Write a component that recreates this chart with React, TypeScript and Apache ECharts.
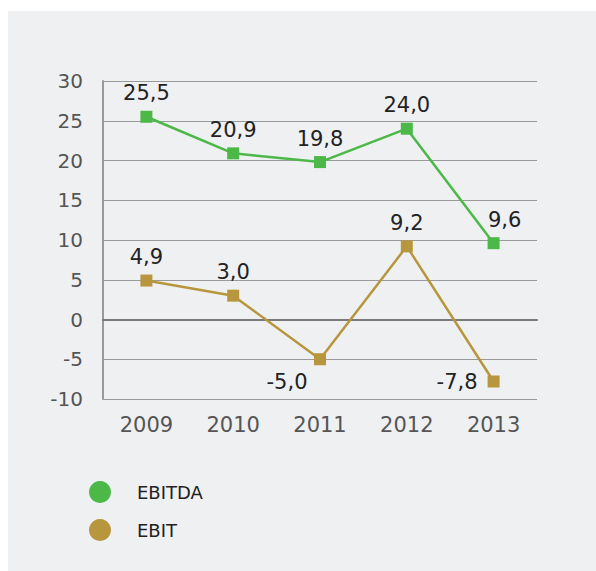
import React, { useEffect, useRef } from "react";
import * as echarts from "echarts";

const categories = ["2009", "2010", "2011", "2012", "2013"];
const ebitda = [25.5, 20.9, 19.8, 24.0, 9.6];
const ebit = [4.9, 3.0, -5.0, 9.2, -7.8];
const seriesNames = ["EBITDA", "EBIT"];
const yTicks = { min: -10, max: 30, interval: 5 };

const GREEN = "#4cb848";
const GOLD = "#b8963e";
const FONT = "DejaVu Sans";

const fmt = (v: number) => v.toFixed(1).replace(".", ",");

export default function App() {
  const ref = useRef<HTMLDivElement>(null);
  useEffect(() => {
    if (!ref.current) return;
    const chart = echarts.init(ref.current, null, { renderer: "svg" });
    const labelBase = {
      show: true,
      fontFamily: FONT,
      fontSize: 21,
      color: "#222",
      formatter: (p: any) => fmt(p.value),
    };
    chart.setOption({
      animation: false,
      backgroundColor: "#eff0f2",
      textStyle: { fontFamily: FONT },
      grid: { left: 95, right: 59, top: 70, bottom: 172 },
      legend: {
        orient: "vertical",
        left: 76,
        top: 465,
        icon: "circle",
        itemWidth: 22,
        itemHeight: 22,
        itemGap: 16,
        textStyle: { fontFamily: FONT, fontSize: 18, color: "#222", padding: [0, 0, 0, 21] },
        data: seriesNames,
      },
      xAxis: {
        type: "category",
        data: categories,
        boundaryGap: true,
        axisTick: { show: false },
        axisLine: { onZero: true, lineStyle: { color: "#7a7a7a", width: 2 } },
        axisLabel: { fontFamily: FONT, fontSize: 21, color: "#555", margin: 15 },
      },
      yAxis: {
        type: "value",
        min: yTicks.min,
        max: yTicks.max,
        interval: yTicks.interval,
        axisLine: { show: true, lineStyle: { color: "#999", width: 2 } },
        axisTick: { show: false },
        splitLine: { lineStyle: { color: "#9a9a9a", width: 1.2 } },
        axisLabel: { fontFamily: FONT, fontSize: 20, color: "#555", margin: 20 },
      },
      series: [
        {
          name: seriesNames[0],
          type: "line",
          data: ebitda.map((v, i) => {
            if (i === 4) return { value: v, label: { offset: [11, 0] } };
            return v;
          }),
          symbol: "rect",
          symbolSize: 12,
          itemStyle: { color: GREEN },
          lineStyle: { color: GREEN, width: 2.5 },
          label: { ...labelBase, position: "top", distance: 7 },
          z: 3,
        },
        {
          name: seriesNames[1],
          type: "line",
          data: ebit.map((v, i) => {
            if (i === 2) return { value: v, label: { position: "bottom", offset: [-33, 0], distance: 6 } };
            if (i === 4) return { value: v, label: { position: "left", distance: 10 } };
            return v;
          }),
          symbol: "rect",
          symbolSize: 12,
          itemStyle: { color: GOLD },
          lineStyle: { color: GOLD, width: 2.5 },
          label: { ...labelBase, position: "top", distance: 7 },
          z: 3,
        },
      ],
    });
    return () => chart.dispose();
  }, []);
  return (
    <div
      ref={ref}
      style={{ position: "fixed", left: 8, top: 11, width: 588, height: 560 }}
    />
  );
}
